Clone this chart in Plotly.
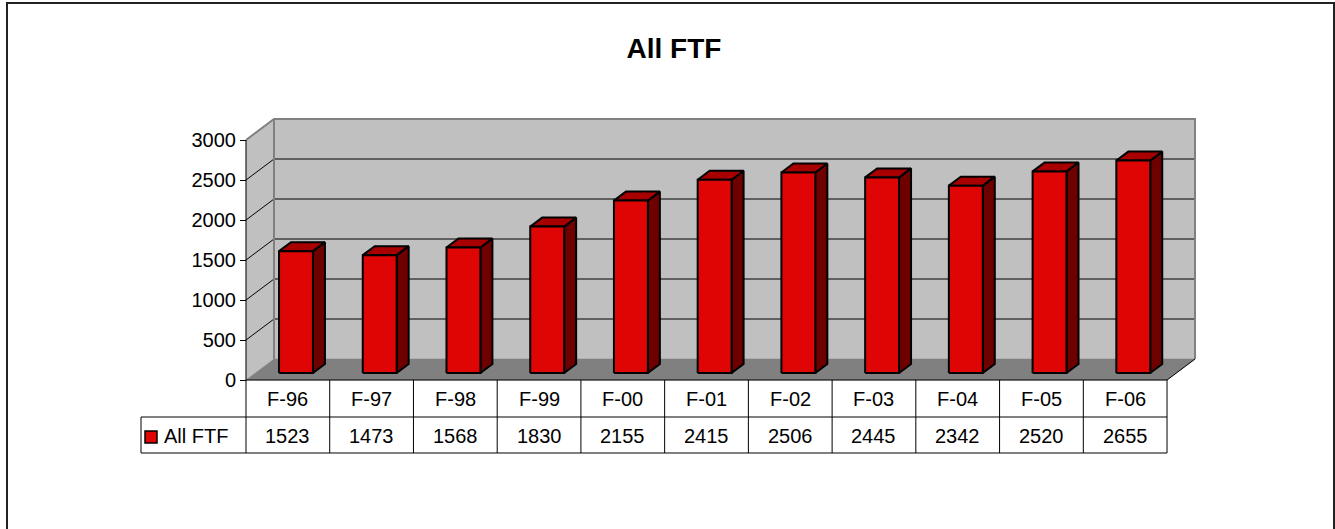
import plotly.graph_objects as go

# ---- data ----
categories = ["F-96", "F-97", "F-98", "F-99", "F-00", "F-01", "F-02", "F-03", "F-04", "F-05", "F-06"]
values = [1523, 1473, 1568, 1830, 2155, 2415, 2506, 2445, 2342, 2520, 2655]
series_name = "All FTF"
tick_values = [0, 500, 1000, 1500, 2000, 2500, 3000]

# ---- geometry (pixel calibration of the axes) ----
W, H = 1335, 529
PX0 = 246.0      # pixel x of first category boundary
CAT_W = 83.73    # pixels per category
PY0 = 380.0      # pixel y of value 0
K = 0.08         # pixels per value unit
DX = 28.0 / CAT_W   # depth shift in category units
DY = 21.0 / K       # depth shift in value units
N = len(categories)
YMAX = 3000
D0, D1 = 7.0 / 21.0, 16.0 / 21.0   # bar front/back depth fraction
BL, BR = 0.283, 0.688              # bar face left/right within category

FONT = "Arial, Liberation Sans, sans-serif"
FRONT, TOP, SIDE = "#DF0505", "#A80000", "#6E0000"

fig = go.Figure()

def poly(xs, ys, fill, line_color=None, lw=0):
    fig.add_trace(go.Scatter(
        x=list(xs) + [xs[0]], y=list(ys) + [ys[0]], mode="lines",
        fill="toself", fillcolor=fill,
        line=dict(color=line_color if line_color else fill, width=lw if lw else 0.5),
        hoverinfo="skip", showlegend=False))

def seg(xs, ys, color, width=1):
    fig.add_trace(go.Scatter(x=xs, y=ys, mode="lines", line=dict(color=color, width=width),
                             hoverinfo="skip", showlegend=False))

# back wall
poly([DX, N + DX, N + DX, DX], [DY, DY, YMAX + DY, YMAX + DY], "#C0C0C0")
# left wall
poly([0, DX, DX, 0], [0, DY, YMAX + DY, YMAX], "#C0C0C0")
# floor
poly([0, N, N + DX, DX], [0, 0, DY, DY], "#808080")

# gridlines
for v in tick_values[1:-1]:
    seg([DX, N + DX], [v + DY, v + DY], "#000000", 1)
    seg([0, DX], [v, v + DY], "#000000", 1)
# wall borders
seg([0, DX, N + DX, N + DX], [YMAX, YMAX + DY, YMAX + DY, DY], "#808080", 2)
seg([DX, DX], [DY, YMAX + DY], "#808080", 2)
seg([N, N + DX], [0, DY], "#000000", 1)
# value axis line
seg([0, 0], [0, YMAX], "#000000", 1)

# bars
for i, v in enumerate(values):
    xl, xr = i + BL, i + BR
    ax0, ay0 = D0 * DX, D0 * DY
    ax1, ay1 = D1 * DX, D1 * DY
    # side
    poly([xr + ax0, xr + ax1, xr + ax1, xr + ax0], [ay0, ay1, v + ay1, v + ay0], SIDE, "#000000", 2)
    # top
    poly([xl + ax0, xr + ax0, xr + ax1, xl + ax1], [v + ay0, v + ay0, v + ay1, v + ay1], TOP, "#000000", 2)
    # front
    poly([xl + ax0, xr + ax0, xr + ax0, xl + ax0], [ay0, ay0, v + ay0, v + ay0], FRONT, "#000000", 2)

# data table
row_mid = (PY0 - 417.0) / K
row_bot = (PY0 - 453.0) / K
leg_left = (141.0 - PX0) / CAT_W
seg([0, N], [0, 0], "#000000", 1)
seg([leg_left, N], [row_mid, row_mid], "#000000", 1)
seg([leg_left, N], [row_bot, row_bot], "#000000", 1)
for k in range(N + 1):
    seg([k, k], [0, row_bot], "#000000", 1)
seg([leg_left, leg_left], [row_mid, row_bot], "#000000", 1)

row1_y = (PY0 - 398.5) / K
row2_y = (PY0 - 435.5) / K
annotations = []
for i, (c, v) in enumerate(zip(categories, values)):
    annotations.append(dict(x=i + 0.5, y=row1_y, text=c, showarrow=False,
                            font=dict(family=FONT, size=20, color="#000"), xanchor="center", yanchor="middle"))
    annotations.append(dict(x=i + 0.5, y=row2_y, text=str(v), showarrow=False,
                            font=dict(family=FONT, size=20, color="#000"), xanchor="center", yanchor="middle"))
# legend key in table
fig.add_trace(go.Scatter(x=[(151.0 - PX0) / CAT_W], y=[(PY0 - 437.0) / K], mode="markers",
                         marker=dict(symbol="square", size=12, color=FRONT, line=dict(color="#000", width=1.5)),
                         hoverinfo="skip", showlegend=False))
annotations.append(dict(x=(162.0 - PX0) / CAT_W, y=row2_y, text=series_name, showarrow=False,
                        font=dict(family=FONT, size=20, color="#000"), xanchor="left", yanchor="middle"))

fig.update_layout(
    width=W, height=H,
    margin=dict(l=0, r=0, t=0, b=0),
    paper_bgcolor="white", plot_bgcolor="white",
    title=dict(text="<b>All FTF</b>", x=674.0 / W, xanchor="center", y=1 - 48.0 / H, yanchor="middle",
               yref="container", xref="container", font=dict(family=FONT, size=28, color="#000")),
    xaxis=dict(range=[-PX0 / CAT_W, (W - PX0) / CAT_W], visible=False, fixedrange=True),
    yaxis=dict(range=[(PY0 - H) / K, PY0 / K], anchor="free", position=PX0 / W,
               showgrid=False, zeroline=False, showline=False,
               ticks="outside", ticklen=6, tickwidth=1, tickcolor="#000",
               tickvals=tick_values, ticktext=[str(t) for t in tick_values],
               tickfont=dict(family=FONT, size=20, color="#000"), fixedrange=True),
    annotations=annotations,
    shapes=[dict(type="rect", xref="paper", yref="paper", x0=7.0 / W, x1=1334.0 / W,
                 y0=-0.2, y1=1 - 3.0 / H, line=dict(color="#222", width=2))],
    showlegend=False, hovermode=False,
)

fig.write_html("out.html", config={"displayModeBar": False},
               post_script="document.body.style.margin='0';document.body.style.overflow='hidden';")
